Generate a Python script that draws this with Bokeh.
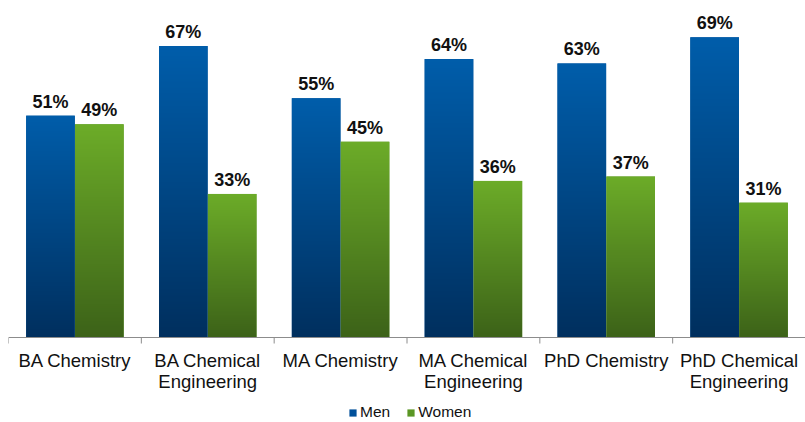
import numpy as np
from bokeh.plotting import figure
from bokeh.models import (ColumnDataSource, Range1d, Span, Legend, LegendItem)
from bokeh.core.properties import value
from bokeh.embed import file_html
from bokeh.resources import INLINE

categories = ["BA Chemistry", "BA Chemical\nEngineering", "MA Chemistry",
              "MA Chemical\nEngineering", "PhD Chemistry", "PhD Chemical\nEngineering"]
men = [51, 67, 55, 64, 63, 69]
women = [49, 33, 45, 36, 37, 31]
series = ["Men", "Women"]

FONT = "Liberation Sans"
BAR_W = 0.366
OFF = 0.184
PX_PER_PCT = 4.35
PLOT_H = 329      # pixels above the baseline
BELOW_H = 85      # pixels below the baseline

men_top, men_bot = (0, 93, 170), (0, 47, 94)
wom_top, wom_bot = (108, 172, 40), (60, 98, 24)


def gradient(top, bot, n=256):
    t = np.linspace(0, 1, n)[:, None]
    a = np.array(bot)[None, :] * (1 - t) + np.array(top)[None, :] * t
    arr = np.zeros((n, 1), dtype=np.uint32)
    view = arr.view(dtype=np.uint8).reshape((n, 1, 4))
    view[:, 0, 0] = a[:, 0].round()
    view[:, 0, 1] = a[:, 1].round()
    view[:, 0, 2] = a[:, 2].round()
    view[:, 0, 3] = 255
    return arr


n = len(categories)
centers = np.arange(n) + 0.5
bounds = np.arange(n + 1)
men_x = centers - OFF
wom_x = centers + OFF

p = figure(frame_width=797, frame_height=PLOT_H + BELOW_H, output_backend="svg",
           toolbar_location=None, x_range=Range1d(0, n),
           y_range=Range1d(-BELOW_H / PX_PER_PCT, PLOT_H / PX_PER_PCT),
           min_border_left=8, min_border_right=0, min_border_top=8,
           min_border_bottom=0)
p.outline_line_color = None
p.grid.visible = False
p.axis.visible = False

src_m = ColumnDataSource(dict(x=men_x, top=men, lbl=[f"{v}%" for v in men]))
src_w = ColumnDataSource(dict(x=wom_x, top=women, lbl=[f"{v}%" for v in women]))

r_m = p.vbar(x="x", top="top", width=BAR_W, source=src_m,
             fill_color="#00509a", line_color=None)
r_w = p.vbar(x="x", top="top", width=BAR_W, source=src_w,
             fill_color="#5a9624", line_color=None)

gm = gradient(men_top, men_bot)
gw = gradient(wom_top, wom_bot)
p.image_rgba(image=[gm] * n, x=list(men_x - BAR_W / 2), y=[0] * n,
             dw=[BAR_W] * n, dh=men)
p.image_rgba(image=[gw] * n, x=list(wom_x - BAR_W / 2), y=[0] * n,
             dw=[BAR_W] * n, dh=women)

for src in (src_m, src_w):
    p.text(x="x", y="top", text="lbl", source=src, text_align="center",
           text_baseline="alphabetic", y_offset=-14,
           text_font=value(FONT), text_font_style="bold",
           text_font_size="18px", text_color="#111111")

# category axis: baseline, boundary ticks, labels
p.add_layout(Span(location=0, dimension="width", line_color="#8c8c8c",
                  line_width=1))
p.ray(x=bounds, y=[0] * (n + 1), length=6, length_units="screen",
      angle=-np.pi / 2, line_color="#8c8c8c", line_width=1)
p.text(x=centers, y=[0] * n, text=categories, text_align="center",
       text_baseline="top", y_offset=12, text_line_height=1.02,
       text_font=value(FONT), text_font_size="18.5px", text_color="#111111")

legend = Legend(items=[LegendItem(label=series[0], renderers=[r_m]),
                       LegendItem(label=series[1], renderers=[r_w])],
                orientation="horizontal", location=(340, 1),
                label_text_font=FONT, label_text_font_size="15.5px",
                label_text_color="#111111", glyph_width=9, glyph_height=9,
                label_standoff=3, spacing=16, padding=0, margin=0,
                label_height=16,
                border_line_color=None, background_fill_alpha=0)
p.add_layout(legend, "center")

open("out.html", "w").write(file_html(p, INLINE))
